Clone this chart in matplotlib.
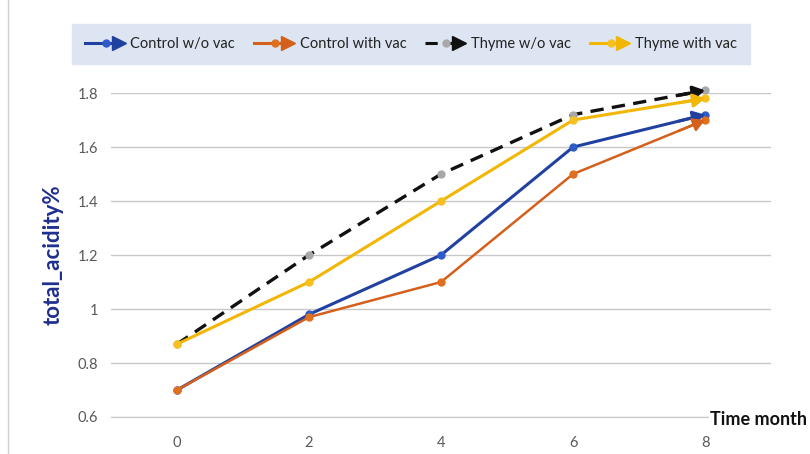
import matplotlib.pyplot as plt
from matplotlib.lines import Line2D
from matplotlib.legend_handler import HandlerBase

months = [0, 2, 4, 6, 8]
control_wo_vac = [0.70, 0.98, 1.20, 1.60, 1.72]
control_with_vac = [0.70, 0.97, 1.10, 1.50, 1.70]
thyme_wo_vac = [0.87, 1.20, 1.50, 1.72, 1.81]
thyme_with_vac = [0.87, 1.10, 1.40, 1.70, 1.78]

series = [
    ('Control w/o vac', control_wo_vac, '#2141A0', '#2E5BC9', '-', 2.2),
    ('Control with vac', control_with_vac, '#D4601C', '#E0701F', '-', 1.8),
    ('Thyme w/o vac', thyme_wo_vac, '#111111', '#A8A8A8', (0, (4, 2.5)), 2.4),
    ('Thyme with vac', thyme_with_vac, '#F2B705', '#F6C020', '-', 2.2),
]

plt.rcParams['font.family'] = ['Lato', 'DejaVu Sans']
fig = plt.figure(figsize=(8.1, 4.54), dpi=100)
ax = fig.add_axes([0.137, 0.0815, 0.815, 0.7135])

xs = list(range(len(months)))
for name, vals, col, mcol, ls, lw in series:
    ax.plot(xs, vals, color=col, linestyle=ls, linewidth=lw, marker='o', markersize=5,
            markerfacecolor=mcol, markeredgecolor=mcol, clip_on=False, zorder=3)
    ax.annotate('', xy=(xs[-1], vals[-1]), xytext=(xs[-2] + 0.8 * (xs[-1] - xs[-2]),
                vals[-2] + 0.8 * (vals[-1] - vals[-2])),
                arrowprops=dict(arrowstyle='-|>,head_length=0.7,head_width=0.4', color=col, lw=lw,
                                shrinkA=0, shrinkB=0), zorder=4, annotation_clip=False)

ax.set_xlim(-0.5, 4.5)
ax.set_ylim(0.6, 1.8)
ax.set_xticks(xs)
ax.set_xticklabels([str(m) for m in months])
ax.set_yticks([0.6, 0.8, 1.0, 1.2, 1.4, 1.6, 1.8])
ax.set_yticklabels(['0.6', '0.8', '1', '1.2', '1.4', '1.6', '1.8'])
ax.tick_params(length=0, labelsize=10.5, labelcolor='#595959')
ax.tick_params(axis='y', pad=9)
ax.tick_params(axis='x', pad=14)
ax.yaxis.grid(True, color='#c8c8c8', linewidth=1)
ax.set_axisbelow(True)
for s in ['top', 'right', 'left']:
    ax.spines[s].set_visible(False)
ax.spines['bottom'].set_color('#c8c8c8')

ax.set_ylabel('total_acidity%', fontsize=16, fontweight='bold', color='#1F2F8F', labelpad=10)
fig.text(0.877, 0.075, 'Time month', fontsize=13, fontweight='bold', color='#111111',
         ha='left', va='center', bbox=dict(facecolor='white', edgecolor='none', pad=1))

# left border line of the chart frame
fig.add_artist(Line2D([0.01, 0.01], [0.0, 1.0], color='#d0d0d0', linewidth=1))


class ArrowLineHandler(HandlerBase):
    def __init__(self, col, mcol, ls):
        super().__init__()
        self.col, self.mcol, self.ls = col, mcol, ls

    def create_artists(self, legend, orig_handle, xdescent, ydescent, width, height, fontsize, trans):
        y = height / 2 - ydescent
        line = Line2D([-xdescent, width - xdescent - 4], [y, y], color=self.col, linestyle=self.ls,
                      linewidth=2.2, transform=trans)
        dot = Line2D([width * 0.55 - xdescent], [y], marker='o', markersize=5, color=self.mcol,
                     linestyle='none', transform=trans)
        head = Line2D([width - xdescent - 3], [y], marker='>', markersize=10, color=self.col,
                      linestyle='none', transform=trans)
        return [line, dot, head]


handles = []
handler_map = {}
for name, vals, col, mcol, ls, lw in series:
    h = Line2D([], [], color=col, label=name)
    handles.append(h)
    handler_map[h] = ArrowLineHandler(col, mcol, ls)

leg = fig.legend(handles=handles, handler_map=handler_map, loc='center', ncol=4,
                 bbox_to_anchor=(0.089, 0.863, 0.837, 0.0815), mode='expand',
                 frameon=True, fancybox=False, fontsize=10.5, handlelength=2.6,
                 handletextpad=0.5, borderaxespad=0, borderpad=0.9, labelcolor='#222222')
leg.get_frame().set_facecolor('#DCE5F1')
leg.get_frame().set_edgecolor('#DCE5F1')
leg.get_frame().set_alpha(1)

fig.savefig('out.png', dpi=100)
